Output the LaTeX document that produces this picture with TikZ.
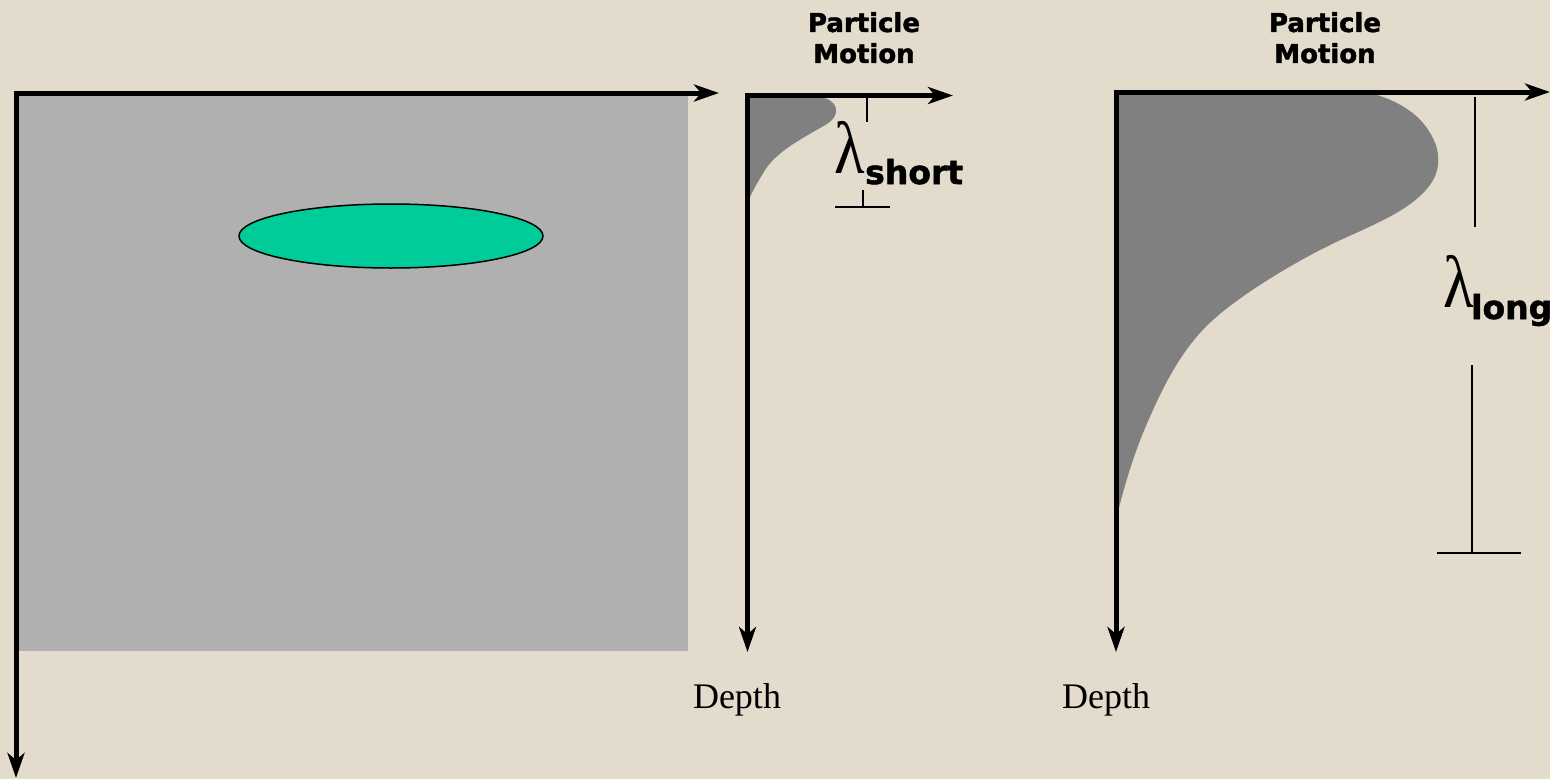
\documentclass[tikz,border=0pt]{standalone}
\usepackage{fontspec}
\setmainfont{Liberation Serif}
\newfontfamily\headfont{DejaVu Sans}[BoldFeatures={FakeBold=1.6}]
\usetikzlibrary{arrows.meta,positioning}

\definecolor{paper}{RGB}{227,220,205}
\definecolor{slab}{RGB}{176,176,176}
\definecolor{profile}{RGB}{128,128,128}
\definecolor{body}{RGB}{0,204,153}

\newcommand{\wavelam}{\scalebox{0.85}[1]{λ}}

\begin{document}
\begin{tikzpicture}[x=1pt, y=-1pt,
  axis/.style={line width=5pt, -{Stealth[length=25pt, width=17pt, inset=7pt]}},
  bar/.style={line width=2pt},
  head/.style={font=\headfont\bfseries\fontsize{26}{31}\selectfont, align=center, inner sep=0pt, anchor=north},
  depth/.style={font=\fontsize{36}{40}\selectfont, inner sep=0pt, anchor=base},
  lam/.style={font=\fontsize{74}{78}\selectfont, inner sep=0pt, anchor=base west},
  sub/.style={font=\headfont\bfseries\fontsize{33}{36}\selectfont, inner sep=0pt, anchor=base west}
]
\fill[paper] (0,0) rectangle (1550,779);
\useasboundingbox (0,0) rectangle (1550,779);

% left panel
\fill[slab] (18,96) rectangle (688,651);
\draw[fill=body, line width=1.5pt] (391,236) ellipse [x radius=152, y radius=32];
\coordinate (o1) at (16,93);
\draw[axis] ([xshift=-2.5pt]o1) -- (719,93);
\draw[axis] (o1) -- (16,778);

% short wavelength
\fill[profile] (748,97) -- (820,97) .. controls (838,100) and (842,114) .. (827,124)
  .. controls (805,137) and (778,150) .. (765,170) .. controls (756,185) and (750,195) .. (748,203) -- cycle;
\coordinate (o2) at (747.5,95.5);
\draw[axis] ([xshift=-2.5pt]o2) -- (953,95.5);
\draw[axis] (o2) -- (747.5,652);
\node[head] (pm1) at (864,12) {Particle\\Motion};
\node[depth] (d1) at (737,708) {Depth};
\node[lam] (ls) at (834,173) {\wavelam};
\node[sub] (ss) at (865,184) {short};
\draw[bar] (867,97) -- (867,122);
\draw[bar] (835,207) -- (890,207);
\draw[bar] (863,190) -- (863,207);

% long wavelength
\fill[profile] (1116,95) -- (1377,95) .. controls (1400,102) and (1420,115) .. (1430,133)
  .. controls (1441,150) and (1441,170) .. (1430,185) .. controls (1415,205) and (1390,218) .. (1347,237)
  .. controls (1300,258) and (1240,295) .. (1213,320) .. controls (1185,345) and (1165,380) .. (1143,433)
  .. controls (1130,465) and (1122,495) .. (1116,520) -- cycle;
\coordinate (o3) at (1116,92);
\draw[axis] ([xshift=-2.5pt]o3) -- (1550,92);
\draw[axis] (o3) -- (1116,652);
\node[head] (pm2) at (1325,12) {Particle\\Motion};
\node[depth] (d2) at (1106,708) {Depth};
\node[lam] (ll) at (1443,307) {\wavelam};
\node[sub] (sl) at (1471,319) {long};
\draw[bar] (1475,97) -- (1475,227);
\draw[bar] (1472,365) -- (1472,553);
\draw[bar] (1437,553) -- (1521,553);
\end{tikzpicture}
\end{document}
